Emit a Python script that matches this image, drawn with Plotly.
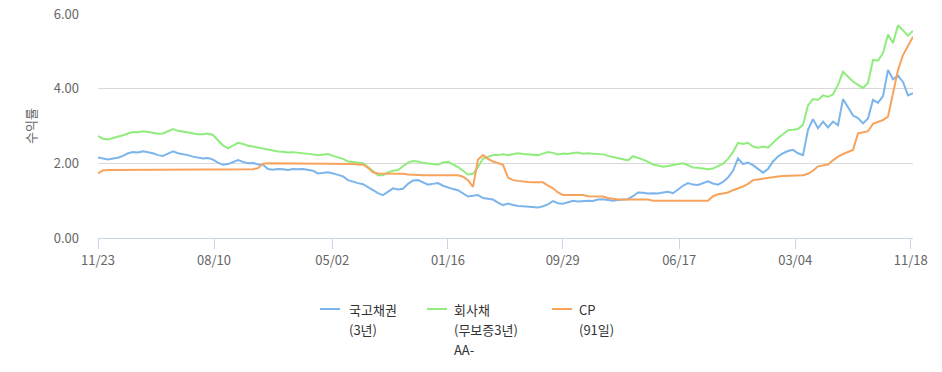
import pandas as pd
import plotly.graph_objects as go

# ---------------- data ----------------
start_date = "2017-11-23"
end_date = "2022-11-23"
n_points = 164

tick_dates = ["2017-11-23", "2018-08-10", "2019-05-02", "2020-01-16",
              "2020-09-29", "2021-06-17", "2022-03-04", "2022-11-18"]
tick_labels = ["11/23", "08/10", "05/02", "01/16", "09/29", "06/17", "03/04", "11/18"]

series_names = ["국고채권 (3년)", "회사채 (무보증3년) AA-", "CP (91일)"]
legend_lines = [["국고채권", "(3년)"], ["회사채", "(무보증3년)", "AA-"], ["CP", "(91일)"]]

gov_3y = [
    2.16, 2.12, 2.10, 2.13, 2.15, 2.20, 2.27, 2.30, 2.29, 2.32, 2.30, 2.27, 2.22, 2.20, 2.26, 2.32,
    2.27, 2.25, 2.22, 2.18, 2.15, 2.13, 2.14, 2.10, 2.02, 1.96, 1.98, 2.03, 2.09, 2.04, 2.00, 2.01,
    1.97, 1.96, 1.85, 1.83, 1.85, 1.84, 1.82, 1.85, 1.84, 1.85, 1.83, 1.80, 1.73, 1.75, 1.76, 1.73,
    1.70, 1.65, 1.55, 1.50, 1.47, 1.44, 1.36, 1.30, 1.20, 1.15, 1.24, 1.33, 1.30, 1.32, 1.45, 1.54,
    1.55, 1.48, 1.43, 1.45, 1.47, 1.40, 1.35, 1.31, 1.28, 1.20, 1.11, 1.13, 1.15, 1.07, 1.05, 1.03,
    0.95, 0.88, 0.92, 0.88, 0.86, 0.85, 0.84, 0.83, 0.82, 0.85, 0.90, 0.99, 0.93, 0.92, 0.97, 1.00,
    0.98, 1.00, 1.00, 0.99, 1.03, 1.04, 1.01, 1.00, 1.02, 1.03, 1.04, 1.12, 1.22, 1.21, 1.19, 1.20,
    1.19, 1.22, 1.24, 1.20, 1.30, 1.40, 1.47, 1.43, 1.42, 1.47, 1.52, 1.46, 1.43, 1.50, 1.62, 1.80,
    2.13, 1.98, 2.02, 1.95, 1.84, 1.75, 1.85, 2.05, 2.18, 2.27, 2.33, 2.36, 2.27, 2.22, 2.90, 3.18,
    2.94, 3.12, 2.96, 3.12, 3.02, 3.72, 3.50, 3.28, 3.21, 3.07, 3.20, 3.70, 3.62, 3.80, 4.50, 4.25,
    4.35, 4.18, 3.82, 3.88,
]

corp_3y = [
    2.73, 2.66, 2.64, 2.67, 2.70, 2.75, 2.80, 2.84, 2.83, 2.86, 2.84, 2.82, 2.79, 2.80, 2.86, 2.92,
    2.87, 2.85, 2.83, 2.80, 2.78, 2.78, 2.80, 2.76, 2.62, 2.48, 2.40, 2.47, 2.55, 2.52, 2.47, 2.45,
    2.42, 2.40, 2.36, 2.34, 2.32, 2.31, 2.29, 2.30, 2.29, 2.28, 2.25, 2.24, 2.22, 2.24, 2.25, 2.20,
    2.17, 2.12, 2.05, 2.03, 2.02, 2.00, 1.90, 1.78, 1.68, 1.68, 1.76, 1.80, 1.82, 1.92, 2.02, 2.06,
    2.05, 2.01, 2.00, 1.98, 1.96, 2.02, 2.04, 1.97, 1.90, 1.80, 1.70, 1.72, 1.90, 2.13, 2.18, 2.22,
    2.22, 2.24, 2.22, 2.25, 2.27, 2.25, 2.24, 2.23, 2.22, 2.26, 2.30, 2.28, 2.24, 2.26, 2.25, 2.28,
    2.29, 2.26, 2.27, 2.26, 2.25, 2.24, 2.20, 2.17, 2.13, 2.10, 2.08, 2.19, 2.15, 2.10, 2.04, 1.97,
    1.94, 1.91, 1.93, 1.96, 1.98, 2.00, 1.95, 1.89, 1.88, 1.86, 1.84, 1.86, 1.93, 1.99, 2.12, 2.30,
    2.55, 2.52, 2.55, 2.45, 2.42, 2.45, 2.42, 2.55, 2.68, 2.78, 2.89, 2.90, 2.92, 3.03, 3.55, 3.72,
    3.70, 3.82, 3.78, 3.85, 4.10, 4.45, 4.32, 4.19, 4.10, 4.02, 4.15, 4.77, 4.75, 4.95, 5.45, 5.22,
    5.70, 5.55, 5.42, 5.55,
]

cp_91d = [
    1.73, 1.81, 1.82, 1.82, 1.82, 1.82, 1.82, 1.82, 1.82, 1.82, 1.82, 1.82, 1.82, 1.82, 1.82, 1.83,
    1.83, 1.83, 1.83, 1.83, 1.83, 1.83, 1.83, 1.83, 1.83, 1.83, 1.83, 1.83, 1.83, 1.83, 1.84, 1.84,
    1.87, 1.99, 2.00, 2.00, 2.00, 2.00, 2.00, 2.00, 2.00, 2.00, 2.00, 2.00, 2.00, 2.00, 2.00, 1.99,
    1.99, 1.99, 1.98, 1.98, 1.97, 1.97, 1.88, 1.76, 1.73, 1.73, 1.73, 1.73, 1.73, 1.72, 1.70, 1.69,
    1.68, 1.68, 1.68, 1.68, 1.68, 1.68, 1.68, 1.68, 1.68, 1.64, 1.55, 1.37, 2.10, 2.22, 2.12, 2.05,
    2.00, 1.96, 1.62, 1.55, 1.53, 1.51, 1.50, 1.49, 1.49, 1.49, 1.40, 1.33, 1.22, 1.15, 1.15, 1.15,
    1.15, 1.15, 1.12, 1.11, 1.11, 1.11, 1.07, 1.04, 1.03, 1.03, 1.03, 1.03, 1.03, 1.03, 1.03, 1.00,
    1.00, 1.00, 1.00, 1.00, 1.00, 1.00, 1.00, 1.00, 1.00, 1.00, 1.00, 1.12, 1.17, 1.19, 1.22, 1.28,
    1.32, 1.38, 1.45, 1.55, 1.57, 1.59, 1.62, 1.64, 1.65, 1.66, 1.66, 1.67, 1.68, 1.68, 1.72, 1.80,
    1.92, 1.94, 1.97, 2.08, 2.18, 2.25, 2.31, 2.36, 2.80, 2.83, 2.86, 3.06, 3.12, 3.16, 3.25, 3.85,
    4.50, 4.90, 5.15, 5.39,
]

colors = ["#7cb5ec", "#90ed7d", "#f7a35c"]

# ---------------- figure ----------------
W, H = 942, 372
ML, MR, MT, MB = 98, 29, 14, 134
plot_w = W - ML - MR
plot_h = H - MT - MB

def px_x(px):
    return (px - ML) / plot_w

def px_y(py):
    return (H - MB - py) / plot_h

dates = pd.date_range(start_date, end_date, periods=n_points)

fig = go.Figure()
for name, vals, col in zip(series_names, [gov_3y, corp_3y, cp_91d], colors):
    fig.add_trace(go.Scatter(x=dates, y=vals, mode="lines", name=name,
                             line=dict(color=col, width=2), showlegend=False))

font_family = "Noto Sans CJK KR, Noto Sans, sans-serif"

# custom legend (symbol + multi-line label)
legend_sym_x = [320, 427, 552]
legend_text_x = [347, 452, 577]
legend_line_y = [309, 329, 349]
for col, lines, sx, tx in zip(colors, legend_lines, legend_sym_x, legend_text_x):
    fig.add_shape(type="line", xref="paper", yref="paper",
                  x0=px_x(sx), x1=px_x(sx + 20), y0=px_y(legend_line_y[0]), y1=px_y(legend_line_y[0]),
                  line=dict(color=col, width=2))
    for k, txt in enumerate(lines):
        fig.add_annotation(text=txt, xref="paper", yref="paper",
                           x=px_x(tx), y=px_y(legend_line_y[k]),
                           xanchor="left", yanchor="middle", showarrow=False,
                           font=dict(size=13, color="#333333"))

fig.update_layout(
    width=W, height=H,
    margin=dict(l=ML, r=MR, t=MT, b=MB, autoexpand=False),
    paper_bgcolor="white", plot_bgcolor="white",
    font=dict(family=font_family, size=13, color="#666666"),
    showlegend=False,
    xaxis=dict(
        range=[dates[0], dates[-1]],
        tickmode="array", tickvals=pd.to_datetime(tick_dates), ticktext=tick_labels,
        showgrid=False, zeroline=False,
        showline=True, linecolor="#ccd6eb", linewidth=1,
        ticks="outside", ticklen=10, tickcolor="#ccd6eb",
        tickfont=dict(size=13, color="#666666"),
        automargin=False,
    ),
    yaxis=dict(
        range=[0, 6], dtick=2, tickformat=".2f",
        showgrid=True, gridcolor="#d9d9d9", gridwidth=1,
        zeroline=False, showline=False,
        ticklabelstandoff=18,
        tickfont=dict(size=13, color="#666666"),
        title=dict(text="수익률", font=dict(size=13, color="#666666"), standoff=14),
        automargin=False,
    ),
)

fig.write_html("out.html", config={"displayModeBar": False},
               post_script="document.body.style.margin='0px';")
